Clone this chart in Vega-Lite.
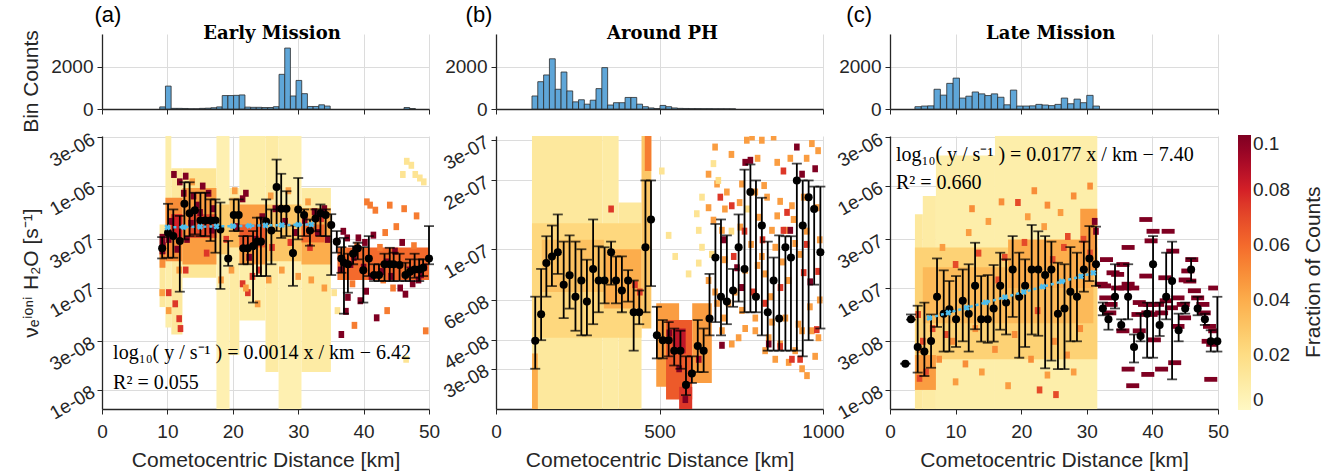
{
"$schema":"https://vega.github.io/schema/vega-lite/v6.json",
"padding":{"left":19,"top":3,"right":5,"bottom":5},
"bounds":"flush",
"columns":3,
"spacing":{"row":27,"column":67},
"config":{
 "font":"Liberation Sans",
 "view":{"stroke":null},
 "axis":{"labelFont":"Liberation Sans","labelFontSize":19,"labelColor":"#262626","titleFont":"Liberation Sans","titleFontSize":21,"titleFontWeight":"normal","titleColor":"#262626","gridColor":"#dcdcdc","gridWidth":1,"domainColor":"#262626","domainWidth":1.3,"tickColor":"#262626","tickSize":5,"labelPadding":4,"labelFlush":false,"labelOverlap":false},
 "legend":{"orient":"none","legendX":1136,"legendY":101,"direction":"vertical","gradientLength":275,"gradientThickness":13,"gradientStrokeWidth":0,"labelFont":"Liberation Sans","labelFontSize":19,"labelColor":"#262626","labelOffset":7,"labelOverlap":false}
},
"datasets":{
"hist":[
{"p":"a","x0":8.83,"x1":9.7,"c":100},{"p":"a","x0":9.7,"x1":10.57,"c":1090},{"p":"a","x0":10.57,"x1":11.44,"c":30},{"p":"a","x0":11.44,"x1":12.3,"c":30},{"p":"a","x0":12.3,"x1":13.17,"c":25},{"p":"a","x0":13.17,"x1":14.04,"c":10},{"p":"a","x0":14.04,"x1":14.91,"c":10},{"p":"a","x0":14.91,"x1":15.78,"c":30},{"p":"a","x0":15.78,"x1":16.65,"c":40},{"p":"a","x0":16.65,"x1":17.52,"c":60},{"p":"a","x0":17.52,"x1":18.38,"c":100},{"p":"a","x0":18.38,"x1":19.25,"c":640},{"p":"a","x0":19.25,"x1":20.12,"c":640},{"p":"a","x0":20.12,"x1":20.99,"c":650},{"p":"a","x0":20.99,"x1":21.86,"c":670},{"p":"a","x0":21.86,"x1":22.73,"c":90},{"p":"a","x0":22.73,"x1":23.59,"c":80},{"p":"a","x0":23.59,"x1":24.46,"c":80},{"p":"a","x0":24.46,"x1":25.33,"c":70},{"p":"a","x0":25.33,"x1":26.2,"c":70},{"p":"a","x0":26.2,"x1":27.07,"c":110},{"p":"a","x0":27.07,"x1":27.94,"c":1650},{"p":"a","x0":27.94,"x1":28.81,"c":2900},{"p":"a","x0":28.81,"x1":29.67,"c":620},{"p":"a","x0":29.67,"x1":30.54,"c":1360},{"p":"a","x0":30.54,"x1":31.41,"c":730},{"p":"a","x0":31.41,"x1":32.28,"c":120},{"p":"a","x0":32.28,"x1":33.15,"c":120},{"p":"a","x0":33.15,"x1":34.02,"c":200},{"p":"a","x0":34.02,"x1":34.89,"c":140},{"p":"a","x0":46.18,"x1":47.05,"c":70},{"p":"a","x0":47.05,"x1":47.92,"c":20},
{"p":"b","x0":110,"x1":127.8,"c":620},{"p":"b","x0":127.8,"x1":145.6,"c":1300},{"p":"b","x0":145.6,"x1":163.4,"c":1620},{"p":"b","x0":163.4,"x1":181.2,"c":2390},{"p":"b","x0":181.2,"x1":199,"c":940},{"p":"b","x0":199,"x1":216.8,"c":1760},{"p":"b","x0":216.8,"x1":234.6,"c":860},{"p":"b","x0":234.6,"x1":252.4,"c":340},{"p":"b","x0":252.4,"x1":270.2,"c":440},{"p":"b","x0":270.2,"x1":288,"c":230},{"p":"b","x0":288,"x1":305.8,"c":420},{"p":"b","x0":305.8,"x1":323.6,"c":970},{"p":"b","x0":323.6,"x1":341.4,"c":1970},{"p":"b","x0":341.4,"x1":359.2,"c":190},{"p":"b","x0":359.2,"x1":377,"c":300},{"p":"b","x0":377,"x1":394.8,"c":300},{"p":"b","x0":394.8,"x1":412.6,"c":550},{"p":"b","x0":412.6,"x1":430.4,"c":550},{"p":"b","x0":430.4,"x1":448.2,"c":230},{"p":"b","x0":448.2,"x1":466,"c":110},{"p":"b","x0":466,"x1":483.8,"c":50},{"p":"b","x0":483.8,"x1":501.6,"c":20},{"p":"b","x0":501.6,"x1":519.4,"c":170},{"p":"b","x0":519.4,"x1":537.2,"c":110},{"p":"b","x0":537.2,"x1":555,"c":50},{"p":"b","x0":555,"x1":572.8,"c":30},{"p":"b","x0":572.8,"x1":590.6,"c":25},{"p":"b","x0":590.6,"x1":608.4,"c":20},{"p":"b","x0":608.4,"x1":626.2,"c":20},{"p":"b","x0":626.2,"x1":644,"c":15},{"p":"b","x0":644,"x1":661.8,"c":15},{"p":"b","x0":661.8,"x1":679.6,"c":10},{"p":"b","x0":679.6,"x1":697.4,"c":10},{"p":"b","x0":697.4,"x1":715.2,"c":8},{"p":"b","x0":715.2,"x1":733,"c":5},
{"p":"c","x0":3.8,"x1":4.77,"c":110},{"p":"c","x0":4.77,"x1":5.74,"c":140},{"p":"c","x0":5.74,"x1":6.71,"c":150},{"p":"c","x0":6.71,"x1":7.68,"c":940},{"p":"c","x0":7.68,"x1":8.65,"c":660},{"p":"c","x0":8.65,"x1":9.62,"c":1220},{"p":"c","x0":9.62,"x1":10.59,"c":1470},{"p":"c","x0":10.59,"x1":11.56,"c":520},{"p":"c","x0":11.56,"x1":12.53,"c":610},{"p":"c","x0":12.53,"x1":13.5,"c":810},{"p":"c","x0":13.5,"x1":14.47,"c":720},{"p":"c","x0":14.47,"x1":15.44,"c":640},{"p":"c","x0":15.44,"x1":16.41,"c":720},{"p":"c","x0":16.41,"x1":17.38,"c":560},{"p":"c","x0":17.38,"x1":18.35,"c":200},{"p":"c","x0":18.35,"x1":19.32,"c":900},{"p":"c","x0":19.32,"x1":20.29,"c":140},{"p":"c","x0":20.29,"x1":21.26,"c":140},{"p":"c","x0":21.26,"x1":22.23,"c":150},{"p":"c","x0":22.23,"x1":23.2,"c":220},{"p":"c","x0":23.2,"x1":24.17,"c":190},{"p":"c","x0":24.17,"x1":25.14,"c":160},{"p":"c","x0":25.14,"x1":26.11,"c":220},{"p":"c","x0":26.11,"x1":27.08,"c":520},{"p":"c","x0":27.08,"x1":28.05,"c":250},{"p":"c","x0":28.05,"x1":29.02,"c":470},{"p":"c","x0":29.02,"x1":29.99,"c":300},{"p":"c","x0":29.99,"x1":30.96,"c":650},{"p":"c","x0":30.96,"x1":31.93,"c":140}
],
"pts":[
{"p":"a","x":9.2,"y":2.45e-7,"lo":1.95e-7,"hi":3.16e-7},{"p":"a","x":10.1,"y":3.48e-7,"lo":1.98e-7,"hi":6.7e-7},{"p":"a","x":10.9,"y":3.23e-7,"lo":1.98e-7,"hi":5.9e-7},{"p":"a","x":11.9,"y":2.89e-7,"lo":9.2e-8,"hi":5.1e-7},{"p":"a","x":12.6,"y":6.7e-7,"lo":3.0e-7,"hi":1.09e-6},{"p":"a","x":13.4,"y":5.4e-7,"lo":3.23e-7,"hi":1.09e-6},{"p":"a","x":14.2,"y":5.8e-7,"lo":3.36e-7,"hi":8.6e-7},{"p":"a","x":15.05,"y":4.6e-7,"lo":3.23e-7,"hi":8.6e-7},{"p":"a","x":15.8,"y":4.6e-7,"lo":3.23e-7,"hi":8.6e-7},{"p":"a","x":16.6,"y":4.6e-7,"lo":2.89e-7,"hi":7.4e-7},{"p":"a","x":17.35,"y":4.6e-7,"lo":2.22e-7,"hi":7.4e-7},{"p":"a","x":18.1,"y":3.76e-7,"lo":9.8e-8,"hi":6.9e-7},{"p":"a","x":19.3,"y":1.95e-7,"lo":1.65e-7,"hi":2.9e-7},{"p":"a","x":20.15,"y":5.2e-7,"lo":3.62e-7,"hi":7.4e-7},{"p":"a","x":20.9,"y":5.2e-7,"lo":3.62e-7,"hi":7.4e-7},{"p":"a","x":21.6,"y":2.45e-7,"lo":1.71e-7,"hi":3.23e-7},{"p":"a","x":22.3,"y":2.45e-7,"lo":1.71e-7,"hi":3.23e-7},{"p":"a","x":23.1,"y":2.58e-7,"lo":7.2e-8,"hi":3.62e-7},{"p":"a","x":23.7,"y":2.85e-7,"lo":1.31e-7,"hi":4.9e-7},{"p":"a","x":24.3,"y":2.85e-7,"lo":1.31e-7,"hi":4.9e-7},{"p":"a","x":25.1,"y":4.5e-7,"lo":1.31e-7,"hi":7.4e-7},{"p":"a","x":25.9,"y":3.67e-7,"lo":1.71e-7,"hi":5.9e-7},{"p":"a","x":26.7,"y":9.8e-7,"lo":3.62e-7,"hi":1.82e-6},{"p":"a","x":27.4,"y":6.0e-7,"lo":3.1e-7,"hi":1.32e-6},{"p":"a","x":28.2,"y":6.0e-7,"lo":3.23e-7,"hi":8.9e-7},{"p":"a","x":29.2,"y":2.2e-7,"lo":1.05e-7,"hi":4.1e-7},{"p":"a","x":30.0,"y":5.9e-7,"lo":3.0e-7,"hi":1.2e-6},{"p":"a","x":30.9,"y":5.2e-7,"lo":3.23e-7,"hi":5.9e-7},{"p":"a","x":31.8,"y":3.67e-7,"lo":2.6e-7,"hi":4.7e-7},{"p":"a","x":32.65,"y":4.8e-7,"lo":3.6e-7,"hi":5.9e-7},{"p":"a","x":33.4,"y":5.4e-7,"lo":3.23e-7,"hi":6.6e-7},{"p":"a","x":34.2,"y":5.2e-7,"lo":3.23e-7,"hi":5.9e-7},{"p":"a","x":35.05,"y":4.15e-7,"lo":1.34e-7,"hi":5.3e-7},{"p":"a","x":35.9,"y":2.85e-7,"lo":2.22e-7,"hi":3.62e-7},{"p":"a","x":36.6,"y":1.95e-7,"lo":1.41e-7,"hi":2.52e-7},{"p":"a","x":37.0,"y":1.77e-7,"lo":5.6e-8,"hi":3.1e-7},{"p":"a","x":37.6,"y":1.71e-7,"lo":9.0e-8,"hi":2.17e-7},{"p":"a","x":38.4,"y":2.17e-7,"lo":1.71e-7,"hi":2.58e-7},{"p":"a","x":39.1,"y":2.45e-7,"lo":1.91e-7,"hi":2.78e-7},{"p":"a","x":39.95,"y":1.49e-7,"lo":7.2e-8,"hi":2.52e-7},{"p":"a","x":40.8,"y":1.95e-7,"lo":1.31e-7,"hi":3.23e-7},{"p":"a","x":41.6,"y":1.34e-7,"lo":1.17e-7,"hi":1.71e-7},{"p":"a","x":42.35,"y":1.34e-7,"lo":1.17e-7,"hi":1.71e-7},{"p":"a","x":43.2,"y":1.71e-7,"lo":1.17e-7,"hi":2.17e-7},{"p":"a","x":44.0,"y":1.71e-7,"lo":1.17e-7,"hi":2.48e-7},{"p":"a","x":44.6,"y":1.71e-7,"lo":1.17e-7,"hi":2.22e-7},{"p":"a","x":45.5,"y":1.68e-7,"lo":1.17e-7,"hi":2.17e-7},{"p":"a","x":46.4,"y":1.34e-7,"lo":1.17e-7,"hi":1.77e-7},{"p":"a","x":47.1,"y":1.44e-7,"lo":1.17e-7,"hi":1.91e-7},{"p":"a","x":47.8,"y":1.52e-7,"lo":1.26e-7,"hi":2.17e-7},{"p":"a","x":48.5,"y":1.52e-7,"lo":1.17e-7,"hi":1.91e-7},{"p":"a","x":49.1,"y":1.58e-7,"lo":1.31e-7,"hi":1.91e-7},{"p":"a","x":50.0,"y":1.95e-7,"lo":1.71e-7,"hi":4.05e-7},
{"p":"b","x":120,"y":3.98e-8,"lo":3.0e-8,"hi":6.2e-8},{"p":"b","x":138,"y":5.2e-8,"lo":4.0e-8,"hi":8.2e-8},{"p":"b","x":154,"y":8.7e-8,"lo":6.2e-8,"hi":1.14e-7},{"p":"b","x":171,"y":9.3e-8,"lo":6.9e-8,"hi":1.27e-7},{"p":"b","x":189,"y":9.7e-8,"lo":7.8e-8,"hi":1.42e-7},{"p":"b","x":207,"y":7.0e-8,"lo":5.0e-8,"hi":1.08e-7},{"p":"b","x":225,"y":7.7e-8,"lo":5.5e-8,"hi":1.15e-7},{"p":"b","x":243,"y":6.2e-8,"lo":4.4e-8,"hi":1.08e-7},{"p":"b","x":261,"y":7.3e-8,"lo":4.2e-8,"hi":1.0e-7},{"p":"b","x":278,"y":5.9e-8,"lo":4.2e-8,"hi":9.0e-8},{"p":"b","x":297,"y":8.2e-8,"lo":4.7e-8,"hi":1.35e-7},{"p":"b","x":314,"y":7.3e-8,"lo":5.3e-8,"hi":1.03e-7},{"p":"b","x":332,"y":7.3e-8,"lo":5.8e-8,"hi":1.02e-7},{"p":"b","x":352,"y":9.7e-8,"lo":7.0e-8,"hi":1.08e-7},{"p":"b","x":367,"y":7.3e-8,"lo":5.8e-8,"hi":9.3e-8},{"p":"b","x":385,"y":6.6e-8,"lo":5.3e-8,"hi":9.3e-8},{"p":"b","x":404,"y":7.3e-8,"lo":5.9e-8,"hi":8.1e-8},{"p":"b","x":421,"y":5.3e-8,"lo":3.6e-8,"hi":7.3e-8},{"p":"b","x":438,"y":5.3e-8,"lo":4.7e-8,"hi":6.6e-8},{"p":"b","x":457,"y":1.02e-7,"lo":5.3e-8,"hi":2.0e-7},{"p":"b","x":474,"y":1.35e-7,"lo":6.9e-8,"hi":2.0e-7},{"p":"b","x":492,"y":4.2e-8,"lo":3.33e-8,"hi":5.6e-8},{"p":"b","x":510,"y":4.0e-8,"lo":3.33e-8,"hi":4.9e-8},{"p":"b","x":528,"y":4.0e-8,"lo":3.4e-8,"hi":4.8e-8},{"p":"b","x":545,"y":3.6e-8,"lo":3.1e-8,"hi":4.5e-8},{"p":"b","x":564,"y":3.6e-8,"lo":3.0e-8,"hi":4.4e-8},{"p":"b","x":581,"y":2.55e-8,"lo":2.3e-8,"hi":3.4e-8},{"p":"b","x":599,"y":2.86e-8,"lo":2.6e-8,"hi":3.4e-8},{"p":"b","x":617,"y":3.77e-8,"lo":2.9e-8,"hi":4.9e-8},{"p":"b","x":635,"y":3.6e-8,"lo":2.9e-8,"hi":4.5e-8},{"p":"b","x":653,"y":4.98e-8,"lo":4.2e-8,"hi":7.8e-8},{"p":"b","x":671,"y":9.2e-8,"lo":4.8e-8,"hi":1.29e-7},{"p":"b","x":688,"y":6.2e-8,"lo":4.2e-8,"hi":1.35e-7},{"p":"b","x":706,"y":5.9e-8,"lo":4.7e-8,"hi":1.15e-7},{"p":"b","x":725,"y":6.6e-8,"lo":5.6e-8,"hi":8.2e-8},{"p":"b","x":742,"y":1.02e-7,"lo":5.9e-8,"hi":1.42e-7},{"p":"b","x":760,"y":8.2e-8,"lo":5.3e-8,"hi":2.23e-7},{"p":"b","x":778,"y":1.78e-7,"lo":5.3e-8,"hi":2.35e-7},{"p":"b","x":795,"y":6.2e-8,"lo":5.3e-8,"hi":2.0e-7},{"p":"b","x":813,"y":1.27e-7,"lo":4.2e-8,"hi":1.68e-7},{"p":"b","x":831,"y":5.3e-8,"lo":3.6e-8,"hi":1.08e-7},{"p":"b","x":849,"y":7.3e-8,"lo":3.6e-8,"hi":9.2e-8},{"p":"b","x":866,"y":4.98e-8,"lo":3.6e-8,"hi":1.15e-7},{"p":"b","x":885,"y":1.02e-7,"lo":3.6e-8,"hi":1.14e-7},{"p":"b","x":902,"y":9.2e-8,"lo":3.6e-8,"hi":1.14e-7},{"p":"b","x":920,"y":2.0e-7,"lo":3.6e-8,"hi":2.37e-7},{"p":"b","x":938,"y":1.27e-7,"lo":3.4e-8,"hi":2.0e-7},{"p":"b","x":956,"y":1.69e-7,"lo":4.0e-8,"hi":2.0e-7},{"p":"b","x":973,"y":1.5e-7,"lo":7.0e-8,"hi":1.88e-7},{"p":"b","x":992,"y":9.7e-8,"lo":4.5e-8,"hi":1.88e-7},
{"p":"c","x":2.34,"y":1.81e-8,"lo":1.81e-8,"hi":1.81e-8},{"p":"c","x":3.2,"y":4.93e-8,"lo":4.9e-8,"hi":5.5e-8},{"p":"c","x":4.22,"y":2.64e-8,"lo":1.48e-8,"hi":6.7e-8},{"p":"c","x":5.24,"y":2.38e-8,"lo":1.37e-8,"hi":7.2e-8},{"p":"c","x":6.26,"y":3.02e-8,"lo":1.65e-8,"hi":5.5e-8},{"p":"c","x":7.17,"y":8.2e-8,"lo":4.15e-8,"hi":1.95e-7},{"p":"c","x":8.19,"y":5.6e-8,"lo":2.38e-8,"hi":1.49e-7},{"p":"c","x":9.05,"y":6.2e-8,"lo":2.38e-8,"hi":1.17e-7},{"p":"c","x":10.07,"y":4.93e-8,"lo":2.64e-8,"hi":1.31e-7},{"p":"c","x":11.09,"y":7.5e-8,"lo":3.0e-8,"hi":1.52e-7},{"p":"c","x":12.0,"y":5.6e-8,"lo":2.38e-8,"hi":1.71e-7},{"p":"c","x":12.97,"y":1.05e-7,"lo":3.94e-8,"hi":2.78e-7},{"p":"c","x":13.9,"y":4.93e-8,"lo":2.98e-8,"hi":1.31e-7},{"p":"c","x":14.9,"y":4.93e-8,"lo":2.9e-8,"hi":1.34e-7},{"p":"c","x":15.8,"y":6.3e-8,"lo":2.98e-8,"hi":1.68e-7},{"p":"c","x":16.8,"y":1.05e-7,"lo":3.9e-8,"hi":2.22e-7},{"p":"c","x":17.7,"y":7.2e-8,"lo":3.5e-8,"hi":1.91e-7},{"p":"c","x":18.7,"y":1.52e-7,"lo":5.2e-8,"hi":3.23e-7},{"p":"c","x":19.7,"y":8.2e-8,"lo":2.07e-8,"hi":2.22e-7},{"p":"c","x":20.6,"y":1.05e-7,"lo":2.64e-8,"hi":1.91e-7},{"p":"c","x":21.6,"y":1.52e-7,"lo":3.5e-8,"hi":4.15e-7},{"p":"c","x":22.6,"y":1.52e-7,"lo":3.4e-8,"hi":3.6e-7},{"p":"c","x":23.65,"y":1.34e-7,"lo":1.63e-8,"hi":3.23e-7},{"p":"c","x":24.6,"y":1.52e-7,"lo":1.94e-8,"hi":2.85e-7},{"p":"c","x":25.6,"y":5.6e-8,"lo":1.6e-8,"hi":1.77e-7},{"p":"c","x":26.6,"y":6.3e-8,"lo":1.6e-8,"hi":1.71e-7},{"p":"c","x":27.5,"y":9.2e-8,"lo":3.0e-8,"hi":2.52e-7},{"p":"c","x":28.5,"y":8.2e-8,"lo":3.0e-8,"hi":2.22e-7},{"p":"c","x":29.55,"y":1.52e-7,"lo":9.2e-8,"hi":2.85e-7},{"p":"c","x":30.4,"y":1.95e-7,"lo":1.17e-7,"hi":4.05e-7},{"p":"c","x":31.4,"y":1.71e-7,"lo":1.05e-7,"hi":4.0e-7},{"p":"c","x":32.45,"y":6.3e-8,"lo":5.4e-8,"hi":7.2e-8},{"p":"c","x":33.3,"y":4.93e-8,"lo":3.9e-8,"hi":5.6e-8},{"p":"c","x":34.3,"y":8.2e-8,"lo":6.3e-8,"hi":1.71e-7},{"p":"c","x":35.25,"y":4.34e-8,"lo":3.9e-8,"hi":4.93e-8},{"p":"c","x":36.3,"y":8.2e-8,"lo":4.93e-8,"hi":1.71e-7},{"p":"c","x":37.2,"y":2.64e-8,"lo":1.86e-8,"hi":3.5e-8},{"p":"c","x":38.2,"y":3.38e-8,"lo":3.0e-8,"hi":5.6e-8},{"p":"c","x":39.2,"y":5.6e-8,"lo":2.07e-8,"hi":7.2e-8},{"p":"c","x":40.1,"y":1.71e-7,"lo":2.07e-8,"hi":3.23e-7},{"p":"c","x":41.1,"y":4.34e-8,"lo":3.38e-8,"hi":7.2e-8},{"p":"c","x":42.1,"y":8.2e-8,"lo":4.93e-8,"hi":2.22e-7},{"p":"c","x":43.0,"y":1.17e-7,"lo":1.27e-8,"hi":2.85e-7},{"p":"c","x":44.0,"y":3.85e-8,"lo":3.0e-8,"hi":5.6e-8},{"p":"c","x":45.0,"y":6.3e-8,"lo":5.6e-8,"hi":7.2e-8},{"p":"c","x":45.9,"y":1.52e-7,"lo":1.17e-7,"hi":1.95e-7},{"p":"c","x":46.9,"y":6.3e-8,"lo":5.4e-8,"hi":8.2e-8},{"p":"c","x":48.0,"y":4.93e-8,"lo":4.34e-8,"hi":5.6e-8},{"p":"c","x":48.9,"y":3.0e-8,"lo":2.38e-8,"hi":3.85e-8},{"p":"c","x":49.9,"y":3.0e-8,"lo":2.38e-8,"hi":8.2e-8}
],
"fit":[
{"p":"a","x":10,"y":3.93e-7},{"p":"a","x":12.5,"y":3.96e-7},{"p":"a","x":15,"y":3.99e-7},{"p":"a","x":17.5,"y":4.02e-7},{"p":"a","x":20,"y":4.05e-7},{"p":"a","x":22.5,"y":4.08e-7},{"p":"a","x":25,"y":4.11e-7},{"p":"a","x":27.5,"y":4.14e-7},{"p":"a","x":30,"y":4.18e-7},{"p":"a","x":32,"y":4.2e-7},
{"p":"c","x":6,"y":5.08e-8},{"p":"c","x":8.9,"y":5.72e-8},{"p":"c","x":11.7,"y":6.41e-8},{"p":"c","x":14.6,"y":7.22e-8},{"p":"c","x":17.5,"y":8.12e-8},{"p":"c","x":20.4,"y":9.14e-8},{"p":"c","x":23.3,"y":1.03e-7},{"p":"c","x":26.2,"y":1.16e-7},{"p":"c","x":29.1,"y":1.3e-7},{"p":"c","x":31,"y":1.41e-7}
],
"blocks":[
{"p":"a","x":8.8,"x2":9.7,"y":6.5e-8,"y2":4.2e-7,"f":0.012},{"p":"a","x":9.7,"x2":10.6,"y":4.1e-8,"y2":3.1e-6,"f":0.008},{"p":"a","x":10.6,"x2":12.3,"y":3.5e-8,"y2":1.5e-6,"f":0.012},{"p":"a","x":12.3,"x2":17.5,"y":1.26e-7,"y2":1.5e-6,"f":0.014},{"p":"a","x":17.5,"x2":19.5,"y":6.5e-9,"y2":3.1e-6,"f":0.006},{"p":"a","x":19.5,"x2":21,"y":2.2e-8,"y2":9.6e-7,"f":0.01},{"p":"a","x":21,"x2":25,"y":4.8e-8,"y2":3.1e-6,"f":0.008},{"p":"a","x":25,"x2":27,"y":1.5e-8,"y2":3.1e-6,"f":0.01},{"p":"a","x":27,"x2":30.5,"y":6.5e-9,"y2":3.1e-6,"f":0.006},{"p":"a","x":30.5,"x2":35,"y":1.5e-8,"y2":9.6e-7,"f":0.01},
{"p":"a","x":8.8,"x2":9.7,"y":1.58e-7,"y2":2.3e-7,"f":0.05},{"p":"a","x":9.7,"x2":12.3,"y":1.83e-7,"y2":7.7e-7,"f":0.05},{"p":"a","x":12.3,"x2":17.5,"y":1.7e-7,"y2":9.6e-7,"f":0.045},{"p":"a","x":17.5,"x2":19.5,"y":2.14e-7,"y2":6.6e-7,"f":0.028},{"p":"a","x":19.5,"x2":21,"y":2.5e-7,"y2":7.7e-7,"f":0.035},{"p":"a","x":21,"x2":25,"y":1.7e-7,"y2":6.6e-7,"f":0.045},{"p":"a","x":25,"x2":30.5,"y":1.83e-7,"y2":6.6e-7,"f":0.03},{"p":"a","x":30.5,"x2":35,"y":1.7e-7,"y2":6.1e-7,"f":0.04},{"p":"a","x":36,"x2":50,"y":1.2e-7,"y2":2.5e-7,"f":0.06},
{"p":"a","x":8.8,"x2":9.7,"y":2.14e-7,"y2":3.4e-7,"f":0.1},{"p":"a","x":10.6,"x2":12.3,"y":3.1e-7,"y2":5.3e-7,"f":0.08},{"p":"a","x":13.2,"x2":17.5,"y":3.1e-7,"y2":5.3e-7,"f":0.07},{"p":"a","x":21,"x2":25,"y":2.5e-7,"y2":4.2e-7,"f":0.065},{"p":"a","x":30.5,"x2":34,"y":2.8e-7,"y2":4.2e-7,"f":0.06},
{"p":"b","x":110,"x2":325,"y":2.0e-8,"y2":3.13e-7,"f":0.012},{"p":"b","x":325,"x2":375,"y":2.0e-8,"y2":3.13e-7,"f":0.01},{"p":"b","x":375,"x2":445,"y":2.0e-8,"y2":1.6e-7,"f":0.012},{"p":"b","x":445,"x2":475,"y":4.5e-8,"y2":3.13e-7,"f":0.03},{"p":"b","x":110,"x2":445,"y":4.1e-8,"y2":1.3e-7,"f":0.022},{"p":"b","x":140,"x2":330,"y":6.5e-8,"y2":1.1e-7,"f":0.032},{"p":"b","x":330,"x2":445,"y":5.5e-8,"y2":1.0e-7,"f":0.04},{"p":"b","x":110,"x2":128,"y":2.0e-8,"y2":3.5e-8,"f":0.04},{"p":"b","x":455,"x2":475,"y":2.2e-7,"y2":3.13e-7,"f":0.055},{"p":"b","x":490,"x2":560,"y":2.5e-8,"y2":5.8e-8,"f":0.045},{"p":"b","x":520,"x2":600,"y":2.2e-8,"y2":4.9e-8,"f":0.065},{"p":"b","x":600,"x2":660,"y":2.6e-8,"y2":5.8e-8,"f":0.045},{"p":"b","x":560,"x2":600,"y":2.0e-8,"y2":2.5e-8,"f":0.075},{"p":"b","x":540,"x2":580,"y":3.5e-8,"y2":4.5e-8,"f":0.085},
{"p":"c","x":3.8,"x2":5,"y":6.5e-9,"y2":5.3e-7,"f":0.012},{"p":"c","x":5,"x2":7,"y":6.5e-9,"y2":8e-7,"f":0.01},{"p":"c","x":7,"x2":16,"y":6.5e-9,"y2":2.0e-6,"f":0.008},{"p":"c","x":16,"x2":31.6,"y":6.5e-9,"y2":3.1e-6,"f":0.008},{"p":"c","x":3.8,"x2":31.6,"y":2.0e-8,"y2":2.5e-7,"f":0.025},{"p":"c","x":5,"x2":31,"y":4.5e-8,"y2":1.6e-7,"f":0.035},{"p":"c","x":3.8,"x2":7,"y":1.0e-8,"y2":2.2e-8,"f":0.045},{"p":"c","x":18,"x2":31,"y":1.0e-7,"y2":3.0e-7,"f":0.04},{"p":"c","x":29,"x2":31.6,"y":1.5e-7,"y2":6e-7,"f":0.045}
],
"cells":[
{"p":"a","x":11.0,"y":1.3e-6,"f":0.1},{"p":"a","x":11.9,"y":1.1e-6,"f":0.1},{"p":"a","x":12.8,"y":1.25e-6,"f":0.1},{"p":"a","x":15.4,"y":1.0e-6,"f":0.1},{"p":"a","x":16.3,"y":8.5e-7,"f":0.1},{"p":"a","x":22.0,"y":8.5e-7,"f":0.1},{"p":"a","x":21.5,"y":7.5e-7,"f":0.1},{"p":"a","x":9.3,"y":2.6e-7,"f":0.1},{"p":"a","x":10.2,"y":3.0e-7,"f":0.1},{"p":"a","x":13.6,"y":4.3e-7,"f":0.1},{"p":"a","x":16.8,"y":3.7e-7,"f":0.1},{"p":"a","x":14.5,"y":6.5e-7,"f":0.1},{"p":"a","x":31.0,"y":4.6e-7,"f":0.1},{"p":"a","x":32.5,"y":5.6e-7,"f":0.1},{"p":"a","x":34.0,"y":6.0e-7,"f":0.1},{"p":"a","x":36.9,"y":3.6e-7,"f":0.1},{"p":"a","x":37.5,"y":3.1e-7,"f":0.1},{"p":"a","x":39.2,"y":3.1e-7,"f":0.1},{"p":"a","x":40.2,"y":2.8e-7,"f":0.1},{"p":"a","x":41.5,"y":3.3e-7,"f":0.1},{"p":"a","x":44.8,"y":2.3e-7,"f":0.1},{"p":"a","x":45.9,"y":2.8e-7,"f":0.1},{"p":"a","x":37.6,"y":8.1e-8,"f":0.1},{"p":"a","x":39.5,"y":7.5e-8,"f":0.1},{"p":"a","x":40.4,"y":9.3e-8,"f":0.1},{"p":"a","x":37.3,"y":5.9e-8,"f":0.1},{"p":"a","x":42.0,"y":5.1e-8,"f":0.1},{"p":"a","x":45.6,"y":1.0e-7,"f":0.1},{"p":"a","x":46.4,"y":8.7e-8,"f":0.1},{"p":"a","x":47.5,"y":1.1e-7,"f":0.1},{"p":"a","x":48.4,"y":1.2e-7,"f":0.1},{"p":"a","x":36.5,"y":1.5e-7,"f":0.1},{"p":"a","x":38.5,"y":2.0e-7,"f":0.1},{"p":"a","x":43.5,"y":1.8e-7,"f":0.1},{"p":"a","x":49.3,"y":1.6e-7,"f":0.1},{"p":"a","x":36.6,"y":3.5e-8,"f":0.1},{"p":"a","x":41.2,"y":1.3e-7,"f":0.1},{"p":"a","x":42.8,"y":1.45e-7,"f":0.1},{"p":"a","x":44.2,"y":1.3e-7,"f":0.1},{"p":"a","x":47.0,"y":1.5e-7,"f":0.1},{"p":"a","x":48.8,"y":1.35e-7,"f":0.1},{"p":"a","x":38.0,"y":1.7e-7,"f":0.1},{"p":"a","x":40.0,"y":1.6e-7,"f":0.1},
{"p":"a","x":10.6,"y":4.5e-7,"f":0.1},{"p":"a","x":11.5,"y":2.4e-7,"f":0.1},{"p":"a","x":13.0,"y":3.0e-7,"f":0.1},{"p":"a","x":14.0,"y":8.0e-7,"f":0.1},{"p":"a","x":15.0,"y":5.5e-7,"f":0.1},{"p":"a","x":17.0,"y":6.0e-7,"f":0.1},{"p":"a","x":12.5,"y":8.5e-7,"f":0.1},{"p":"a","x":20.5,"y":4.0e-7,"f":0.1},{"p":"a","x":23.5,"y":3.0e-7,"f":0.1},{"p":"a","x":24.5,"y":5.0e-7,"f":0.1},{"p":"a","x":26.5,"y":6.0e-7,"f":0.1},{"p":"a","x":28.0,"y":4.5e-7,"f":0.1},{"p":"a","x":29.5,"y":3.5e-7,"f":0.1},{"p":"a","x":33.0,"y":3.5e-7,"f":0.1},{"p":"a","x":34.5,"y":3.0e-7,"f":0.1},{"p":"a","x":22.5,"y":2.0e-7,"f":0.1},
{"p":"a","x":21.5,"y":1.1e-7,"f":0.075},{"p":"a","x":22.3,"y":9.0e-8,"f":0.075},{"p":"a","x":11.8,"y":5.0e-8,"f":0.075},{"p":"a","x":12.0,"y":4.0e-8,"f":0.075},{"p":"a","x":24.0,"y":1.5e-7,"f":0.075},{"p":"a","x":10.2,"y":9.0e-8,"f":0.075},{"p":"a","x":11.2,"y":7.0e-8,"f":0.075},{"p":"a","x":12.8,"y":1.5e-7,"f":0.075},{"p":"a","x":16.0,"y":2.2e-7,"f":0.075},{"p":"a","x":19.0,"y":3.0e-7,"f":0.075},{"p":"a","x":23.0,"y":1.3e-7,"f":0.075},{"p":"a","x":26.0,"y":2.5e-7,"f":0.075},{"p":"a","x":28.8,"y":2.8e-7,"f":0.075},{"p":"a","x":31.8,"y":2.5e-7,"f":0.075},{"p":"a","x":33.5,"y":4.8e-7,"f":0.075},
{"p":"a","x":9.2,"y":9.0e-8,"f":0.045},{"p":"a","x":10.2,"y":6.0e-8,"f":0.045},{"p":"a","x":11.8,"y":1.5e-7,"f":0.045},{"p":"a","x":18.2,"y":1.2e-7,"f":0.045},{"p":"a","x":19.8,"y":1.5e-7,"f":0.045},{"p":"a","x":22.0,"y":1.0e-7,"f":0.045},{"p":"a","x":23.8,"y":7.0e-8,"f":0.045},{"p":"a","x":25.5,"y":1.2e-7,"f":0.045},{"p":"a","x":27.5,"y":1.5e-7,"f":0.045},{"p":"a","x":30.0,"y":1.3e-7,"f":0.045},{"p":"a","x":32.0,"y":1.2e-7,"f":0.045},{"p":"a","x":34.0,"y":1.0e-7,"f":0.045},{"p":"a","x":20.3,"y":9.0e-7,"f":0.045},{"p":"a","x":13.8,"y":1.1e-6,"f":0.045},{"p":"a","x":25.8,"y":8.0e-7,"f":0.045},{"p":"a","x":28.5,"y":9.0e-7,"f":0.045},{"p":"a","x":31.5,"y":7.0e-7,"f":0.045},
{"p":"a","x":41.0,"y":6.5e-7,"f":0.055},{"p":"a","x":41.8,"y":5.8e-7,"f":0.055},{"p":"a","x":44.0,"y":6.5e-7,"f":0.055},{"p":"a","x":46.2,"y":6.0e-7,"f":0.055},{"p":"a","x":48.1,"y":5.1e-7,"f":0.055},{"p":"a","x":36.6,"y":1.3e-7,"f":0.055},{"p":"a","x":38.3,"y":1.1e-7,"f":0.055},{"p":"a","x":43.0,"y":1.2e-7,"f":0.055},{"p":"a","x":44.5,"y":1.0e-7,"f":0.055},{"p":"a","x":46.3,"y":1.45e-7,"f":0.055},{"p":"a","x":38.6,"y":4.3e-8,"f":0.055},{"p":"a","x":43.6,"y":6.0e-8,"f":0.055},{"p":"a","x":49.5,"y":3.8e-8,"f":0.055},{"p":"a","x":40.5,"y":7.0e-7,"f":0.055},{"p":"a","x":37.0,"y":2.3e-7,"f":0.055},{"p":"a","x":39.0,"y":2.6e-7,"f":0.055},{"p":"a","x":42.5,"y":2.5e-7,"f":0.055},{"p":"a","x":47.7,"y":2.6e-7,"f":0.055},{"p":"a","x":45.0,"y":4.0e-7,"f":0.055},{"p":"a","x":43.3,"y":3.5e-7,"f":0.055},
{"p":"a","x":46.6,"y":1.75e-6,"f":0.015},{"p":"a","x":47.3,"y":1.6e-6,"f":0.015},{"p":"a","x":47.9,"y":1.3e-6,"f":0.015},{"p":"a","x":48.6,"y":1.2e-6,"f":0.015},{"p":"a","x":46.0,"y":1.3e-6,"f":0.015},{"p":"a","x":49.2,"y":1.1e-6,"f":0.015},{"p":"a","x":46.5,"y":2.0e-8,"f":0.015},{"p":"a","x":36.0,"y":6.0e-8,"f":0.015},{"p":"a","x":35.5,"y":9.0e-8,"f":0.015},
{"p":"b","x":767,"y":3.0e-7,"f":0.045},{"p":"b","x":783,"y":3.1e-7,"f":0.045},{"p":"b","x":813,"y":3.0e-7,"f":0.045},{"p":"b","x":849,"y":3.1e-7,"f":0.045},{"p":"b","x":670,"y":2.8e-7,"f":0.045},{"p":"b","x":966,"y":2.9e-7,"f":0.045},{"p":"b","x":650,"y":2.13e-7,"f":0.045},{"p":"b","x":676,"y":1.93e-7,"f":0.045},{"p":"b","x":706,"y":1.78e-7,"f":0.045},{"p":"b","x":752,"y":1.93e-7,"f":0.045},{"p":"b","x":793,"y":1.78e-7,"f":0.045},{"p":"b","x":829,"y":1.69e-7,"f":0.045},{"p":"b","x":869,"y":1.62e-7,"f":0.045},{"p":"b","x":905,"y":1.55e-7,"f":0.045},{"p":"b","x":941,"y":1.69e-7,"f":0.045},{"p":"b","x":981,"y":1.52e-7,"f":0.045},{"p":"b","x":650,"y":1.52e-7,"f":0.045},{"p":"b","x":665,"y":1.34e-7,"f":0.045},{"p":"b","x":691,"y":1.21e-7,"f":0.045},{"p":"b","x":747,"y":1.25e-7,"f":0.045},{"p":"b","x":803,"y":1.38e-7,"f":0.045},{"p":"b","x":844,"y":1.21e-7,"f":0.045},{"p":"b","x":885,"y":1.21e-7,"f":0.045},{"p":"b","x":915,"y":1.06e-7,"f":0.045},{"p":"b","x":854,"y":1.02e-7,"f":0.045},{"p":"b","x":813,"y":9.3e-8,"f":0.045},{"p":"b","x":762,"y":8.1e-8,"f":0.045},{"p":"b","x":823,"y":7.8e-8,"f":0.045},{"p":"b","x":895,"y":7.3e-8,"f":0.045},{"p":"b","x":650,"y":7.3e-8,"f":0.045},{"p":"b","x":670,"y":6.5e-8,"f":0.045},{"p":"b","x":711,"y":5.8e-8,"f":0.045},{"p":"b","x":752,"y":5.4e-8,"f":0.045},{"p":"b","x":793,"y":5.0e-8,"f":0.045},{"p":"b","x":844,"y":4.8e-8,"f":0.045},{"p":"b","x":885,"y":5.0e-8,"f":0.045},{"p":"b","x":925,"y":4.7e-8,"f":0.045},{"p":"b","x":966,"y":4.4e-8,"f":0.045},{"p":"b","x":986,"y":4.1e-8,"f":0.045},{"p":"b","x":823,"y":3.6e-8,"f":0.045},{"p":"b","x":854,"y":3.3e-8,"f":0.045},{"p":"b","x":895,"y":3.2e-8,"f":0.045},{"p":"b","x":936,"y":3.0e-8,"f":0.045},{"p":"b","x":951,"y":2.8e-8,"f":0.045},{"p":"b","x":793,"y":4.4e-8,"f":0.045},{"p":"b","x":691,"y":4.4e-8,"f":0.045},{"p":"b","x":742,"y":4.1e-8,"f":0.045},{"p":"b","x":721,"y":3.85e-8,"f":0.045},{"p":"b","x":869,"y":3.85e-8,"f":0.045},{"p":"b","x":915,"y":3.6e-8,"f":0.045},{"p":"b","x":976,"y":3.4e-8,"f":0.045},{"p":"b","x":762,"y":4.5e-8,"f":0.045},{"p":"b","x":936,"y":4.4e-8,"f":0.045},{"p":"b","x":834,"y":4.1e-8,"f":0.045},{"p":"b","x":676,"y":5.8e-8,"f":0.045},{"p":"b","x":696,"y":5.0e-8,"f":0.045},
{"p":"b","x":700,"y":9.0e-8,"f":0.045},{"p":"b","x":730,"y":6.5e-8,"f":0.045},{"p":"b","x":780,"y":1.05e-7,"f":0.045},{"p":"b","x":800,"y":8.5e-8,"f":0.045},{"p":"b","x":840,"y":6.2e-8,"f":0.045},{"p":"b","x":860,"y":1.4e-7,"f":0.045},{"p":"b","x":875,"y":8.8e-8,"f":0.045},{"p":"b","x":910,"y":1.35e-7,"f":0.045},{"p":"b","x":930,"y":9.5e-8,"f":0.045},{"p":"b","x":950,"y":1.2e-7,"f":0.045},{"p":"b","x":960,"y":5.6e-8,"f":0.045},{"p":"b","x":990,"y":1.1e-7,"f":0.045},{"p":"b","x":990,"y":6.0e-8,"f":0.045},{"p":"b","x":700,"y":1.5e-7,"f":0.045},{"p":"b","x":745,"y":1.6e-7,"f":0.045},{"p":"b","x":820,"y":1.9e-7,"f":0.045},{"p":"b","x":860,"y":2.4e-7,"f":0.045},{"p":"b","x":900,"y":2.5e-7,"f":0.045},{"p":"b","x":950,"y":2.5e-7,"f":0.045},{"p":"b","x":985,"y":2.7e-7,"f":0.045},{"p":"b","x":720,"y":2.6e-7,"f":0.045},{"p":"b","x":800,"y":2.5e-7,"f":0.045},
{"p":"b","x":762,"y":2.4e-7,"f":0.1},{"p":"b","x":778,"y":2.45e-7,"f":0.1},{"p":"b","x":920,"y":2.8e-7,"f":0.1},{"p":"b","x":936,"y":2.13e-7,"f":0.1},{"p":"b","x":900,"y":1.21e-7,"f":0.1},{"p":"b","x":696,"y":1.1e-7,"f":0.1},{"p":"b","x":737,"y":8.3e-8,"f":0.1},{"p":"b","x":752,"y":6.8e-8,"f":0.1},{"p":"b","x":691,"y":3.8e-8,"f":0.1},{"p":"b","x":834,"y":3.85e-8,"f":0.1},{"p":"b","x":976,"y":2.25e-7,"f":0.1},{"p":"b","x":961,"y":7.2e-8,"f":0.1},{"p":"b","x":579,"y":2.2e-8,"f":0.1},{"p":"b","x":560,"y":3.0e-8,"f":0.1},{"p":"b","x":530,"y":4.3e-8,"f":0.1},{"p":"b","x":620,"y":3.3e-8,"f":0.09},
{"p":"b","x":879,"y":2.2e-7,"f":0.075},{"p":"b","x":686,"y":1.69e-7,"f":0.075},{"p":"b","x":721,"y":1.55e-7,"f":0.075},{"p":"b","x":890,"y":1.45e-7,"f":0.075},{"p":"b","x":727,"y":9.3e-8,"f":0.075},{"p":"b","x":869,"y":3.75e-8,"f":0.075},{"p":"b","x":930,"y":3.3e-8,"f":0.075},{"p":"b","x":905,"y":3.3e-8,"f":0.075},{"p":"b","x":981,"y":4.45e-8,"f":0.075},{"p":"b","x":941,"y":7.9e-8,"f":0.075},{"p":"b","x":788,"y":6.5e-8,"f":0.075},{"p":"b","x":823,"y":5.8e-8,"f":0.075},{"p":"b","x":879,"y":1.21e-7,"f":0.075},{"p":"b","x":352,"y":1.5e-7,"f":0.075},{"p":"b","x":425,"y":7.0e-8,"f":0.075},{"p":"b","x":440,"y":6.5e-8,"f":0.075},{"p":"b","x":815,"y":1.1e-7,"f":0.075},{"p":"b","x":870,"y":6.8e-8,"f":0.075},{"p":"b","x":950,"y":1.05e-7,"f":0.075},{"p":"b","x":985,"y":8.0e-8,"f":0.075},{"p":"b","x":760,"y":1.2e-7,"f":0.075},
{"p":"b","x":614,"y":1.43e-7,"f":0.015},{"p":"b","x":620,"y":1.21e-7,"f":0.015},{"p":"b","x":630,"y":1.02e-7,"f":0.015},{"p":"b","x":620,"y":8.7e-8,"f":0.015},{"p":"b","x":548,"y":9.3e-8,"f":0.015},{"p":"b","x":528,"y":1.15e-7,"f":0.015},{"p":"b","x":507,"y":2.2e-7,"f":0.015},{"p":"b","x":589,"y":7.8e-8,"f":0.015},{"p":"b","x":665,"y":2.37e-7,"f":0.015},{"p":"b","x":630,"y":1.69e-7,"f":0.015},{"p":"b","x":660,"y":9.5e-8,"f":0.02},{"p":"b","x":680,"y":2.0e-7,"f":0.02},{"p":"b","x":720,"y":1.2e-7,"f":0.02},{"p":"b","x":770,"y":1.5e-7,"f":0.02},
{"p":"c","x":4.5,"y":1.3e-8,"f":0.07},{"p":"c","x":5.5,"y":1.5e-8,"f":0.07},{"p":"c","x":4.3,"y":5.5e-8,"f":0.07},{"p":"c","x":27.1,"y":3.2e-7,"f":0.07},{"p":"c","x":19.5,"y":6.9e-7,"f":0.07},{"p":"c","x":25.3,"y":9.0e-9,"f":0.07},{"p":"c","x":22.8,"y":1.0e-8,"f":0.07},{"p":"c","x":17.5,"y":2.0e-7,"f":0.07},{"p":"c","x":24.8,"y":1.9e-7,"f":0.07},{"p":"c","x":10.0,"y":1.7e-7,"f":0.07},{"p":"c","x":31.2,"y":4.5e-7,"f":0.1},{"p":"c","x":31.4,"y":3.6e-7,"f":0.1},
{"p":"c","x":5.0,"y":3.0e-8,"f":0.07},{"p":"c","x":6.5,"y":4.0e-8,"f":0.07},{"p":"c","x":8.5,"y":3.5e-8,"f":0.07},{"p":"c","x":13.5,"y":2.2e-7,"f":0.07},{"p":"c","x":16.5,"y":1.2e-7,"f":0.07},{"p":"c","x":20.5,"y":2.8e-7,"f":0.07},{"p":"c","x":22.5,"y":6.0e-8,"f":0.07},{"p":"c","x":26.5,"y":2.5e-7,"f":0.07},{"p":"c","x":29.5,"y":3.0e-7,"f":0.07},{"p":"c","x":30.5,"y":2.2e-7,"f":0.07},
{"p":"c","x":8,"y":2.5e-7,"f":0.045},{"p":"c","x":12,"y":3.5e-7,"f":0.045},{"p":"c","x":15,"y":4.5e-7,"f":0.045},{"p":"c","x":21,"y":5.0e-7,"f":0.045},{"p":"c","x":23.5,"y":4.0e-7,"f":0.045},{"p":"c","x":26,"y":5.5e-7,"f":0.045},{"p":"c","x":6,"y":1.3e-8,"f":0.045},{"p":"c","x":10,"y":1.2e-8,"f":0.045},{"p":"c","x":14,"y":1.5e-8,"f":0.045},{"p":"c","x":18,"y":1.1e-8,"f":0.045},{"p":"c","x":24,"y":1.4e-8,"f":0.045},{"p":"c","x":28,"y":1.5e-8,"f":0.045},
{"p":"c","x":4.5,"y":2.5e-8,"f":0.05},{"p":"c","x":7.5,"y":2.0e-8,"f":0.05},{"p":"c","x":9.5,"y":3.0e-8,"f":0.05},{"p":"c","x":11.5,"y":1.8e-8,"f":0.05},{"p":"c","x":13,"y":4.0e-8,"f":0.05},{"p":"c","x":16,"y":2.5e-8,"f":0.05},{"p":"c","x":19,"y":3.5e-8,"f":0.05},{"p":"c","x":21.5,"y":2.0e-8,"f":0.05},{"p":"c","x":25,"y":3.0e-8,"f":0.05},{"p":"c","x":27,"y":2.2e-8,"f":0.05},{"p":"c","x":29,"y":4.0e-8,"f":0.05},{"p":"c","x":12.5,"y":6.0e-7,"f":0.05},{"p":"c","x":17,"y":7.0e-7,"f":0.05},{"p":"c","x":22,"y":9.0e-7,"f":0.05},{"p":"c","x":24,"y":6.5e-7,"f":0.05},{"p":"c","x":28,"y":8.0e-7,"f":0.05},{"p":"c","x":30.5,"y":1.0e-6,"f":0.05},
{"p":"c","x":32.2,"y":1.09e-7,"f":0.1},{"p":"c","x":32.7,"y":1.05e-7,"f":0.1},{"p":"c","x":32.9,"y":8.0e-8,"f":0.1},{"p":"c","x":33.7,"y":6.9e-8,"f":0.1},{"p":"c","x":33.5,"y":5.7e-8,"f":0.1},{"p":"c","x":34.7,"y":1.0e-7,"f":0.1},{"p":"c","x":35.8,"y":1.0e-7,"f":0.1},{"p":"c","x":36.3,"y":2.5e-7,"f":0.1},{"p":"c","x":35.5,"y":3.8e-8,"f":0.1},{"p":"c","x":34.7,"y":1.36e-7,"f":0.1},{"p":"c","x":34.0,"y":1.41e-7,"f":0.1},{"p":"c","x":36.3,"y":1.09e-7,"f":0.1},{"p":"c","x":37.0,"y":1.0e-7,"f":0.1},{"p":"c","x":38.0,"y":7.2e-8,"f":0.1},{"p":"c","x":38.8,"y":6.9e-8,"f":0.1},{"p":"c","x":39.3,"y":5.7e-8,"f":0.1},{"p":"c","x":39.8,"y":5.5e-8,"f":0.1},{"p":"c","x":40.1,"y":3.6e-7,"f":0.1},{"p":"c","x":39.0,"y":4.7e-7,"f":0.1},{"p":"c","x":39.8,"y":2.9e-7,"f":0.1},{"p":"c","x":39.0,"y":1.31e-7,"f":0.1},{"p":"c","x":39.6,"y":6.9e-8,"f":0.1},{"p":"c","x":40.3,"y":3.1e-8,"f":0.1},{"p":"c","x":40.8,"y":6.9e-8,"f":0.1},{"p":"c","x":41.4,"y":5.7e-8,"f":0.1},{"p":"c","x":42.4,"y":3.6e-7,"f":0.1},{"p":"c","x":43.1,"y":2.3e-7,"f":0.1},{"p":"c","x":41.9,"y":1.26e-7,"f":0.1},{"p":"c","x":42.1,"y":7.5e-8,"f":0.1},{"p":"c","x":42.9,"y":6.4e-8,"f":0.1},{"p":"c","x":43.9,"y":4.2e-8,"f":0.1},{"p":"c","x":43.4,"y":1.85e-8,"f":0.1},{"p":"c","x":43.9,"y":8.0e-8,"f":0.1},{"p":"c","x":44.7,"y":6.9e-8,"f":0.1},{"p":"c","x":44.9,"y":5.1e-8,"f":0.1},{"p":"c","x":45.4,"y":1.47e-7,"f":0.1},{"p":"c","x":45.7,"y":1.17e-7,"f":0.1},{"p":"c","x":46.4,"y":9.4e-8,"f":0.1},{"p":"c","x":46.9,"y":8.0e-8,"f":0.1},{"p":"c","x":47.7,"y":6.9e-8,"f":0.1},{"p":"c","x":47.9,"y":5.7e-8,"f":0.1},{"p":"c","x":48.7,"y":4.2e-8,"f":0.1},{"p":"c","x":49.5,"y":3.8e-8,"f":0.1},{"p":"c","x":49.2,"y":2.8e-8,"f":0.1},{"p":"c","x":48.5,"y":3.0e-8,"f":0.1},{"p":"c","x":49.5,"y":1.0e-7,"f":0.1},{"p":"c","x":48.9,"y":1.27e-8,"f":0.1},{"p":"c","x":36.3,"y":1.6e-8,"f":0.1},{"p":"c","x":37.0,"y":1.1e-8,"f":0.1},{"p":"c","x":39.3,"y":1.42e-8,"f":0.1},{"p":"c","x":37.8,"y":5.5e-8,"f":0.1},{"p":"c","x":38.0,"y":3.8e-8,"f":0.1},{"p":"c","x":41.4,"y":1.6e-8,"f":0.1},{"p":"c","x":45.0,"y":1.2e-7,"f":0.1},{"p":"c","x":46.0,"y":1.9e-7,"f":0.1},{"p":"c","x":33.0,"y":1.9e-7,"f":0.1},{"p":"c","x":35.5,"y":1.7e-7,"f":0.1}
]
},
"resolve":{"scale":{"color":"shared"}},
"concat":[
 {"width":327,"height":75,"layer":[
  {"data":{"name":"hist"},"transform":[{"filter":"datum.p==='a'"}],"mark":{"type":"rect","fill":"#5FA6D8","stroke":"#2b2b2b","strokeWidth":0.8},
   "encoding":{"x":{"field":"x0","type":"quantitative","scale":{"domain":[0,50],"nice":false},"axis":{"values":[0,10,20,30,40,50],"labels":false,"title":null,"grid":true}},"x2":{"field":"x1"},
   "y":{"field":"c","type":"quantitative","scale":{"domain":[0,3570],"nice":false},"axis":{"values":[0,2000],"format":"d","grid":true,"title":"Bin Counts","titleX":-61,"titleY":47}},"y2":{"datum":0}}},
  {"data":{"values":[{}]},"mark":{"type":"text","font":"DejaVu Serif","fontWeight":"bold","fontSize":18,"align":"center","baseline":"alphabetic","color":"black"},"encoding":{"x":{"datum":26,"scale":{"domain":[0,50],"nice":false}},"y":{"datum":3333,"scale":{"domain":[0,3570],"nice":false}},"text":{"value":"Early Mission"}}},
  {"data":{"values":[{}]},"mark":{"type":"text","font":"Liberation Sans","fontSize":22,"align":"center","baseline":"alphabetic","color":"black"},"encoding":{"x":{"datum":0.9,"scale":{"domain":[0,50],"nice":false}},"y":{"datum":4143,"scale":{"domain":[0,3570],"nice":false}},"text":{"value":"(a)"}}}
 ]},
 {"width":327,"height":75,"layer":[
  {"data":{"name":"hist"},"transform":[{"filter":"datum.p==='b'"}],"mark":{"type":"rect","fill":"#5FA6D8","stroke":"#2b2b2b","strokeWidth":0.8},
   "encoding":{"x":{"field":"x0","type":"quantitative","scale":{"domain":[0,1000],"nice":false},"axis":{"values":[0,500,1000],"labels":false,"title":null,"grid":true}},"x2":{"field":"x1"},
   "y":{"field":"c","type":"quantitative","scale":{"domain":[0,3570],"nice":false},"axis":{"values":[0,2000],"format":"d","grid":true,"title":null}},"y2":{"datum":0}}},
  {"data":{"values":[{}]},"mark":{"type":"text","font":"DejaVu Serif","fontWeight":"bold","fontSize":18,"align":"center","baseline":"alphabetic","color":"black"},"encoding":{"x":{"datum":509,"scale":{"domain":[0,1000],"nice":false}},"y":{"datum":3333,"scale":{"domain":[0,3570],"nice":false}},"text":{"value":"Around PH"}}},
  {"data":{"values":[{}]},"mark":{"type":"text","font":"Liberation Sans","fontSize":22,"align":"center","baseline":"alphabetic","color":"black"},"encoding":{"x":{"datum":-52,"scale":{"domain":[0,1000],"nice":false}},"y":{"datum":4143,"scale":{"domain":[0,3570],"nice":false}},"text":{"value":"(b)"}}}
 ]},
 {"width":328,"height":75,"layer":[
  {"data":{"name":"hist"},"transform":[{"filter":"datum.p==='c'"}],"mark":{"type":"rect","fill":"#5FA6D8","stroke":"#2b2b2b","strokeWidth":0.8},
   "encoding":{"x":{"field":"x0","type":"quantitative","scale":{"domain":[0,50],"nice":false},"axis":{"values":[0,10,20,30,40,50],"labels":false,"title":null,"grid":true}},"x2":{"field":"x1"},
   "y":{"field":"c","type":"quantitative","scale":{"domain":[0,3570],"nice":false},"axis":{"values":[0,2000],"format":"d","grid":true,"title":null}},"y2":{"datum":0}}},
  {"data":{"values":[{}]},"mark":{"type":"text","font":"DejaVu Serif","fontWeight":"bold","fontSize":18,"align":"center","baseline":"alphabetic","color":"black"},"encoding":{"x":{"datum":24.5,"scale":{"domain":[0,50],"nice":false}},"y":{"datum":3333,"scale":{"domain":[0,3570],"nice":false}},"text":{"value":"Late Mission"}}},
  {"data":{"values":[{}]},"mark":{"type":"text","font":"Liberation Sans","fontSize":22,"align":"center","baseline":"alphabetic","color":"black"},"encoding":{"x":{"datum":-4.7,"scale":{"domain":[0,50],"nice":false}},"y":{"datum":4143,"scale":{"domain":[0,3570],"nice":false}},"text":{"value":"(c)"}}}
 ]},
 {"width":327,"height":273,"layer":[
  {"data":{"name":"blocks"},"transform":[{"filter":"datum.p==='a'"}],"mark":{"type":"rect","clip":true},
   "encoding":{"x":{"field":"x","type":"quantitative","scale":{"domain":[0,50],"nice":false},"axis":{"values":[0,10,20,30,40,50],"grid":true,"title":"Cometocentric Distance [km]","labelPadding":8,"titlePadding":8}},"x2":{"field":"x2"},
   "y":{"field":"y","type":"quantitative","scale":{"type":"log","domain":[6.5e-9,3.1e-6],"nice":false},"axis":{"values":[1e-8,3e-8,1e-7,3e-7,1e-6,3e-6],"labelExpr":"replace(format(datum.value,'.0e'),'e-','e-0')","labelAngle":-30,"labelAlign":"right","labelBaseline":"middle","grid":true,"title":"νₑⁱᵒⁿⁱ H₂O [s⁻¹]","titleX":-61}},"y2":{"field":"y2"},
   "color":{"field":"f","type":"quantitative","scale":{"type":"linear","domain":[0,0.02,0.04,0.06,0.08,0.1],"range":["#fff8c4","#fedd84","#fcad4c","#f46a2c","#d42027","#7f0022"],"clamp":true},"legend":{"values":[0,0.02,0.04,0.06,0.08,0.1],"format":"~g","title":null}}}},
  {"data":{"name":"cells"},"transform":[{"filter":"datum.p==='a'"}],"mark":{"type":"point","shape":"M-0.8,-1H0.8V1H-0.8Z","filled":true,"size":49,"opacity":1,"strokeWidth":0,"clip":true},
   "encoding":{"x":{"field":"x","type":"quantitative","scale":{"domain":[0,50],"nice":false}},"y":{"field":"y","type":"quantitative","scale":{"type":"log","domain":[6.5e-9,3.1e-6],"nice":false}},"color":{"field":"f","type":"quantitative","legend":null}}},
  {"data":{"name":"pts"},"transform":[{"filter":"datum.p==='a'"}],"mark":{"type":"errorbar","ticks":true,"color":"black","thickness":1.8,"size":10},
   "encoding":{"x":{"field":"x","type":"quantitative","scale":{"domain":[0,50],"nice":false}},"y":{"field":"lo","type":"quantitative","title":"νₑⁱᵒⁿⁱ H₂O [s⁻¹]","scale":{"type":"log","domain":[6.5e-9,3.1e-6],"nice":false}},"y2":{"field":"hi"}}},
  {"data":{"name":"pts"},"transform":[{"filter":"datum.p==='a'"}],"mark":{"type":"circle","size":65,"color":"black","opacity":1},
   "encoding":{"x":{"field":"x","type":"quantitative","scale":{"domain":[0,50],"nice":false}},"y":{"field":"y","type":"quantitative","scale":{"type":"log","domain":[6.5e-9,3.1e-6],"nice":false}}}},
  {"data":{"name":"fit"},"transform":[{"filter":"datum.p==='a'"}],"mark":{"type":"line","color":"#4DBEEE","strokeWidth":2.5,"strokeDash":[3,3]},
   "encoding":{"x":{"field":"x","type":"quantitative","scale":{"domain":[0,50],"nice":false}},"y":{"field":"y","type":"quantitative","scale":{"type":"log","domain":[6.5e-9,3.1e-6],"nice":false}}}},
  {"data":{"name":"fit"},"transform":[{"filter":"datum.p==='a'"}],"mark":{"type":"point","shape":"cross","angle":45,"size":40,"filled":true,"color":"#4DBEEE","opacity":1},
   "encoding":{"x":{"field":"x","type":"quantitative","scale":{"domain":[0,50],"nice":false}},"y":{"field":"y","type":"quantitative","scale":{"type":"log","domain":[6.5e-9,3.1e-6],"nice":false}}}},
  {"data":{"values":[{}]},"mark":{"type":"text","align":"left","baseline":"alphabetic","font":"Liberation Serif","fontSize":20,"color":"black"},"encoding":{"x":{"datum":1.7,"scale":{"domain":[0,50],"nice":false}},"y":{"datum":2.0e-8,"scale":{"type":"log","domain":[6.5e-9,3.1e-6],"nice":false}},"text":{"value":"log₁₀( y / s⁻¹ ) = 0.0014 x / km − 6.42"}}},
  {"data":{"values":[{}]},"mark":{"type":"text","align":"left","baseline":"alphabetic","font":"Liberation Serif","fontSize":20,"color":"black"},"encoding":{"x":{"datum":1.7,"scale":{"domain":[0,50],"nice":false}},"y":{"datum":1.02e-8,"scale":{"type":"log","domain":[6.5e-9,3.1e-6],"nice":false}},"text":{"value":"R² = 0.055"}}}
 ]},
 {"width":327,"height":273,"layer":[
  {"data":{"name":"blocks"},"transform":[{"filter":"datum.p==='b'"}],"mark":{"type":"rect","clip":true},
   "encoding":{"x":{"field":"x","type":"quantitative","scale":{"domain":[0,1000],"nice":false},"axis":{"values":[0,500,1000],"format":"d","grid":true,"title":"Cometocentric Distance [km]","labelPadding":8,"titlePadding":8}},"x2":{"field":"x2"},
   "y":{"field":"y","type":"quantitative","scale":{"type":"log","domain":[2.0e-8,3.13e-7],"nice":false},"axis":{"values":[3e-8,4e-8,6e-8,1e-7,2e-7,3e-7],"labelExpr":"replace(format(datum.value,'.0e'),'e-','e-0')","labelAngle":-30,"labelAlign":"right","labelBaseline":"middle","grid":true,"title":null}},"y2":{"field":"y2"},
   "color":{"field":"f","type":"quantitative","legend":null}}},
  {"data":{"name":"cells"},"transform":[{"filter":"datum.p==='b'"}],"mark":{"type":"point","shape":"M-0.8,-1H0.8V1H-0.8Z","filled":true,"size":49,"opacity":1,"strokeWidth":0,"clip":true},
   "encoding":{"x":{"field":"x","type":"quantitative","scale":{"domain":[0,1000],"nice":false}},"y":{"field":"y","type":"quantitative","scale":{"type":"log","domain":[2.0e-8,3.13e-7],"nice":false}},"color":{"field":"f","type":"quantitative","legend":null}}},
  {"data":{"name":"pts"},"transform":[{"filter":"datum.p==='b'"}],"mark":{"type":"errorbar","ticks":true,"color":"black","thickness":1.8,"size":10},
   "encoding":{"x":{"field":"x","type":"quantitative","scale":{"domain":[0,1000],"nice":false}},"y":{"field":"lo","type":"quantitative","scale":{"type":"log","domain":[2.0e-8,3.13e-7],"nice":false}},"y2":{"field":"hi"}}},
  {"data":{"name":"pts"},"transform":[{"filter":"datum.p==='b'"}],"mark":{"type":"circle","size":65,"color":"black","opacity":1},
   "encoding":{"x":{"field":"x","type":"quantitative","scale":{"domain":[0,1000],"nice":false}},"y":{"field":"y","type":"quantitative","scale":{"type":"log","domain":[2.0e-8,3.13e-7],"nice":false}}}}
 ]},
 {"width":328,"height":273,"layer":[
  {"data":{"name":"blocks"},"transform":[{"filter":"datum.p==='c'"}],"mark":{"type":"rect","clip":true},
   "encoding":{"x":{"field":"x","type":"quantitative","scale":{"domain":[0,50],"nice":false},"axis":{"values":[0,10,20,30,40,50],"grid":true,"title":"Cometocentric Distance [km]","labelPadding":8,"titlePadding":8}},"x2":{"field":"x2"},
   "y":{"field":"y","type":"quantitative","scale":{"type":"log","domain":[6.5e-9,3.1e-6],"nice":false},"axis":{"values":[1e-8,3e-8,1e-7,3e-7,1e-6,3e-6],"labelExpr":"replace(format(datum.value,'.0e'),'e-','e-0')","labelAngle":-30,"labelAlign":"right","labelBaseline":"middle","grid":true,"title":null}},"y2":{"field":"y2"},
   "color":{"field":"f","type":"quantitative","legend":null}}},
  {"data":{"name":"cells"},"transform":[{"filter":"datum.p==='c' && datum.x<=31.8"}],"mark":{"type":"point","shape":"M-0.8,-1H0.8V1H-0.8Z","filled":true,"size":49,"opacity":1,"strokeWidth":0,"clip":true},
   "encoding":{"x":{"field":"x","type":"quantitative","scale":{"domain":[0,50],"nice":false}},"y":{"field":"y","type":"quantitative","scale":{"type":"log","domain":[6.5e-9,3.1e-6],"nice":false}},"color":{"field":"f","type":"quantitative","legend":null}}},
  {"data":{"name":"cells"},"transform":[{"filter":"datum.p==='c' && datum.x>31.8"}],"mark":{"type":"point","shape":"M-1,-0.37H1V0.37H-1Z","filled":true,"size":169,"opacity":1,"strokeWidth":0,"clip":true},
   "encoding":{"x":{"field":"x","type":"quantitative","scale":{"domain":[0,50],"nice":false}},"y":{"field":"y","type":"quantitative","scale":{"type":"log","domain":[6.5e-9,3.1e-6],"nice":false}},"color":{"field":"f","type":"quantitative","legend":null}}},
  {"data":{"name":"pts"},"transform":[{"filter":"datum.p==='c'"}],"mark":{"type":"errorbar","ticks":true,"color":"black","thickness":1.8,"size":10},
   "encoding":{"x":{"field":"x","type":"quantitative","scale":{"domain":[0,50],"nice":false}},"y":{"field":"lo","type":"quantitative","scale":{"type":"log","domain":[6.5e-9,3.1e-6],"nice":false}},"y2":{"field":"hi"}}},
  {"data":{"name":"pts"},"transform":[{"filter":"datum.p==='c'"}],"mark":{"type":"circle","size":65,"color":"black","opacity":1},
   "encoding":{"x":{"field":"x","type":"quantitative","scale":{"domain":[0,50],"nice":false}},"y":{"field":"y","type":"quantitative","scale":{"type":"log","domain":[6.5e-9,3.1e-6],"nice":false}}}},
  {"data":{"name":"fit"},"transform":[{"filter":"datum.p==='c'"}],"mark":{"type":"line","color":"#4DBEEE","strokeWidth":2.5,"strokeDash":[3,3]},
   "encoding":{"x":{"field":"x","type":"quantitative","scale":{"domain":[0,50],"nice":false}},"y":{"field":"y","type":"quantitative","scale":{"type":"log","domain":[6.5e-9,3.1e-6],"nice":false}}}},
  {"data":{"name":"fit"},"transform":[{"filter":"datum.p==='c'"}],"mark":{"type":"point","shape":"cross","angle":45,"size":40,"filled":true,"color":"#4DBEEE","opacity":1},
   "encoding":{"x":{"field":"x","type":"quantitative","scale":{"domain":[0,50],"nice":false}},"y":{"field":"y","type":"quantitative","scale":{"type":"log","domain":[6.5e-9,3.1e-6],"nice":false}}}},
  {"data":{"values":[{}]},"mark":{"type":"text","align":"left","baseline":"alphabetic","font":"Liberation Serif","fontSize":20,"color":"black"},"encoding":{"x":{"datum":0.9,"scale":{"domain":[0,50],"nice":false}},"y":{"datum":1.76e-6,"scale":{"type":"log","domain":[6.5e-9,3.1e-6],"nice":false}},"text":{"value":"log₁₀( y / s⁻¹ ) = 0.0177 x / km − 7.40"}}},
  {"data":{"values":[{}]},"mark":{"type":"text","align":"left","baseline":"alphabetic","font":"Liberation Serif","fontSize":20,"color":"black"},"encoding":{"x":{"datum":0.9,"scale":{"domain":[0,50],"nice":false}},"y":{"datum":9.3e-7,"scale":{"type":"log","domain":[6.5e-9,3.1e-6],"nice":false}},"text":{"value":"R² = 0.660"}}},
  {"data":{"values":[{}]},"mark":{"type":"text","angle":270,"align":"center","baseline":"middle","font":"Liberation Sans","fontSize":21,"color":"#262626"},"encoding":{"x":{"datum":64.7,"scale":{"domain":[0,50],"nice":false}},"y":{"datum":1.43e-7,"scale":{"type":"log","domain":[6.5e-9,3.1e-6],"nice":false}},"text":{"value":"Fraction of Counts"}}}
 ]}
]
}
